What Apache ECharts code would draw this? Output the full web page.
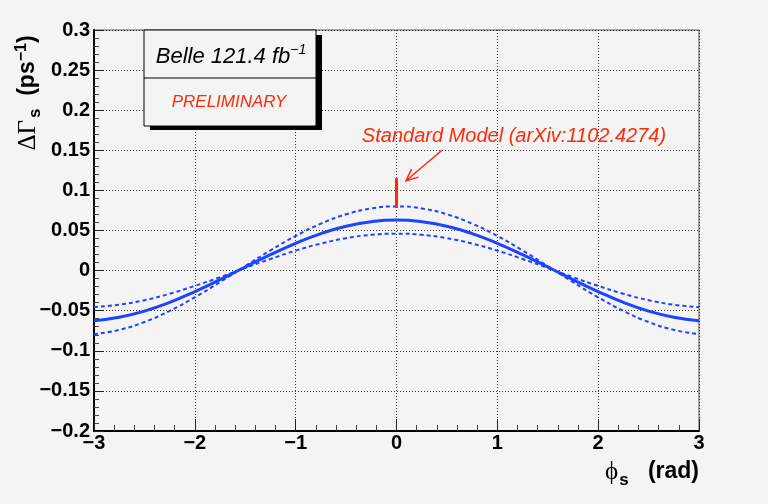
<!DOCTYPE html>
<html>
<head>
<meta charset="utf-8">
<script src="https://cdn.jsdelivr.net/npm/echarts@6/dist/echarts.min.js"></script>
<style>html,body{margin:0;padding:0;background:#f4f4f4;}#c{width:768px;height:504px;}</style>
</head>
<body>
<div id="c"></div>
<script>
// phi_s (rad)
var phiValues = [-3, -2.75, -2.5, -2.25, -2, -1.75, -1.5, -1.25, -1, -0.75, -0.5, -0.25, 0,
                 0.25, 0.5, 0.75, 1, 1.25, 1.5, 1.75, 2, 2.25, 2.5, 2.75, 3];
// central curve
var centralValues = [-0.0624, -0.0582, -0.0505, -0.0396, -0.0262, -0.0112, 0.0045, 0.0199, 0.0340, 0.0461, 0.0553, 0.0610, 0.063,
                     0.0610, 0.0553, 0.0461, 0.0340, 0.0199, 0.0045, -0.0112, -0.0262, -0.0396, -0.0505, -0.0582, -0.0624];
// outer dashed band curve
var upperValues = [-0.0792, -0.0739, -0.0641, -0.0503, -0.0333, -0.0143, 0.0057, 0.0252, 0.0432, 0.0585, 0.0702, 0.0775, 0.080,
                   0.0775, 0.0702, 0.0585, 0.0432, 0.0252, 0.0057, -0.0143, -0.0333, -0.0503, -0.0641, -0.0739, -0.0792];
// inner dashed band curve
var lowerValues = [-0.0455, -0.0425, -0.0369, -0.0289, -0.0191, -0.0082, 0.0033, 0.0145, 0.0249, 0.0337, 0.0404, 0.0446, 0.046,
                   0.0446, 0.0404, 0.0337, 0.0249, 0.0145, 0.0033, -0.0082, -0.0191, -0.0289, -0.0369, -0.0425, -0.0455];
// Standard Model prediction bar at phi_s = 0
var smPhi = [0, 0];
var smValues = [0.078, 0.115];
// annotation arrow (from, to)
var arrowFrom = [0.45, 0.150];
var arrowTo = [0.094, 0.112];
// ticks
var xTicks = [-3, -2, -1, 0, 1, 2, 3];
var yTicks = [-0.2, -0.15, -0.1, -0.05, 0, 0.05, 0.1, 0.15, 0.2, 0.25, 0.3];

var BLUE = '#1e44ff';
var RED = '#ff2a0a';
var SANS = 'Liberation Sans, Arial, sans-serif';
var SERIF = 'Liberation Serif, DejaVu Serif, serif';
function zip(xs, ys) { return xs.map(function (x, i) { return [x, ys[i]]; }); }
function fmt(v) {
  var r = Math.round(v * 1000) / 1000;
  return String(r).replace('-', '\u2212');
}

var chart = echarts.init(document.getElementById('c'), null, {renderer: 'canvas'});
var labelFont = {fontFamily: SANS, fontWeight: 'bold', fontSize: 20, color: '#000'};

var option = {
  backgroundColor: '#f4f4f4',
  animation: false,
  grid: {left: 94, right: 69, top: 30, bottom: 73, show: true, borderColor: '#555', borderWidth: 1, backgroundColor: 'transparent'},
  xAxis: {
    type: 'value', min: xTicks[0], max: xTicks[xTicks.length - 1], interval: 1,
    axisLine: {show: true, onZero: false, lineStyle: {color: '#000', width: 2}},
    axisTick: {show: true, inside: true, length: 12, lineStyle: {color: '#222', width: 1}},
    minorTick: {show: true, splitNumber: 5, length: 6, lineStyle: {color: '#444', width: 1}},
    splitLine: {show: true, lineStyle: {color: '#333', type: [1, 2], width: 1}},
    axisLabel: Object.assign({margin: 2, formatter: fmt}, labelFont)
  },
  yAxis: {
    type: 'value', min: yTicks[0], max: yTicks[yTicks.length - 1], interval: 0.05,
    axisLine: {show: true, onZero: false, lineStyle: {color: '#000', width: 2}},
    axisTick: {show: true, inside: true, length: 10, lineStyle: {color: '#222', width: 1}},
    minorTick: {show: true, splitNumber: 5, length: 5, lineStyle: {color: '#444', width: 1}},
    splitLine: {show: true, lineStyle: {color: '#333', type: [1, 2], width: 1}},
    axisLabel: Object.assign({margin: 4, formatter: fmt}, labelFont)
  },
  series: [
    {type: 'line', data: zip(phiValues, upperValues), smooth: true, symbol: 'none',
     lineStyle: {color: BLUE, width: 2, type: [4, 3]}, z: 3},
    {type: 'line', data: zip(phiValues, lowerValues), smooth: true, symbol: 'none',
     lineStyle: {color: BLUE, width: 2, type: [4, 3]}, z: 3},
    {type: 'line', data: zip(phiValues, centralValues), smooth: true, symbol: 'none',
     lineStyle: {color: BLUE, width: 3}, z: 4},
    {type: 'line', data: zip(smPhi, smValues), symbol: 'none',
     lineStyle: {color: RED, width: 3}, z: 5},
    {type: 'custom', data: [[arrowFrom[0], arrowFrom[1], arrowTo[0], arrowTo[1]]], z: 5,
     renderItem: function (params, api) {
       var p0 = api.coord([api.value(0), api.value(1)]);
       var p1 = api.coord([api.value(2), api.value(3)]);
       var ang = Math.atan2(p1[1] - p0[1], p1[0] - p0[0]);
       var L = 13, a = 0.42;
       var h1 = [p1[0] - L * Math.cos(ang - a), p1[1] - L * Math.sin(ang - a)];
       var h2 = [p1[0] - L * Math.cos(ang + a), p1[1] - L * Math.sin(ang + a)];
       return {type: 'group', children: [
         {type: 'line', shape: {x1: p0[0], y1: p0[1], x2: p1[0], y2: p1[1]}, style: {stroke: RED, lineWidth: 1.5}},
         {type: 'polyline', shape: {points: [h1, p1, h2]}, style: {stroke: RED, lineWidth: 1.5, fill: null}}
       ]};
     }}
  ],
  graphic: [
    // legend box shadow and box
    {type: 'rect', shape: {x: 150, y: 35, width: 172, height: 95}, style: {fill: '#000'}, z: 10},
    {type: 'rect', shape: {x: 144, y: 30, width: 172, height: 96}, style: {fill: '#f4f4f4', stroke: '#000', lineWidth: 1}, z: 11},
    {type: 'line', shape: {x1: 144, y1: 78, x2: 316, y2: 78}, style: {stroke: '#000', lineWidth: 1}, z: 12},
    {type: 'text', x: 231, y: 57, z: 12, style: {
      text: '{n|Belle 121.4 fb}{sup|\u22121}', textAlign: 'center', textVerticalAlign: 'middle',
      rich: {
        n: {fontFamily: SANS, fontStyle: 'italic', fontSize: 22, color: '#000'},
        sup: {fontFamily: SANS, fontStyle: 'italic', fontSize: 14, color: '#000', padding: [0, 0, 13, 0]}
      }}},
    {type: 'text', x: 229, y: 102, z: 12, style: {
      text: 'PRELIMINARY', textAlign: 'center', textVerticalAlign: 'middle',
      font: 'italic 17px ' + SANS, fill: RED}},
    // SM annotation
    {type: 'text', x: 514, y: 136, z: 12, style: {
      text: 'Standard Model (arXiv:1102.4274)', textAlign: 'center', textVerticalAlign: 'middle',
      font: 'italic 20px ' + SANS, fill: RED}},
    // y axis title
    {type: 'text', x: 28, y: 93, rotation: Math.PI / 2, z: 12, style: {
      text: '{g|\u0394\u0393}{sub|s}{n|  (ps}{sup|\u22121}{n|)}', textAlign: 'center', textVerticalAlign: 'middle',
      rich: {
        g: {fontFamily: SERIF, fontSize: 25, color: '#000'},
        n: {fontFamily: SANS, fontWeight: 'bold', fontSize: 23, color: '#000'},
        sub: {fontFamily: SANS, fontWeight: 'bold', fontSize: 17, color: '#000', padding: [14, 0, 0, 2]},
        sup: {fontFamily: SANS, fontWeight: 'bold', fontSize: 16, color: '#000', padding: [0, 0, 12, 0]}
      }}},
    // x axis title
    {type: 'text', x: 699, y: 472, z: 12, style: {
      text: '{g|\u03d5}{sub|s}{n|   (rad)}', textAlign: 'right', textVerticalAlign: 'middle',
      rich: {
        g: {fontFamily: SERIF, fontSize: 25, color: '#000'},
        n: {fontFamily: SANS, fontWeight: 'bold', fontSize: 23, color: '#000'},
        sub: {fontFamily: SANS, fontWeight: 'bold', fontSize: 17, color: '#000', padding: [16, 0, 0, 1]}
      }}}
  ]
};
chart.setOption(option);
</script>
</body>
</html>
